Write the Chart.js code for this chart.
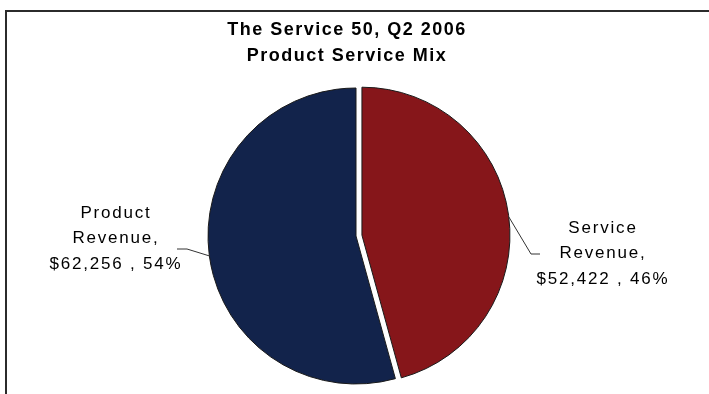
<!DOCTYPE html>
<html>
<head>
<meta charset="utf-8">
<script src="https://cdn.jsdelivr.net/npm/chart.js@4.4.1/dist/chart.umd.min.js"></script>
<style>
  html, body { margin: 0; padding: 0; background: #ffffff; }
  canvas { display: block; }
</style>
</head>
<body>
<canvas id="mixChart" width="709" height="394"></canvas>
<script>
// chart data
const titleLines = ['The Service 50, Q2 2006', 'Product Service Mix'];
const categories = ['Service Revenue', 'Product Revenue'];
const revenue = [52422, 62256];
const percentLabels = ['46%', '54%'];
const sliceColors = ['#86161A', '#12234B'];
const slicePull = [6, 0]; // service slice is pulled out a little

const FONT = '"Liberation Sans", Arial, sans-serif';

// frame lines round the chart (top and left only, like the cropped original) + title
const framePlugin = {
    id: 'frame',
    beforeDraw(chart) {
        const ctx = chart.ctx;
        ctx.save();
        ctx.fillStyle = '#2b2b2b';
        ctx.fillRect(5, 10, chart.width - 5, 2); // top edge
        ctx.fillRect(5, 10, 2, chart.height - 10); // left edge

        ctx.letterSpacing = '1.5px';
        ctx.font = 'bold 18px ' + FONT;
        ctx.fillStyle = '#000000';
        ctx.textAlign = 'center';
        ctx.textBaseline = 'middle';
        titleLines.forEach((line, i) => ctx.fillText(line, 347, 30 + i * 26));
        ctx.restore();
    }
};

// move exploded slices out along their middle angle
const pullPlugin = {
    id: 'pull',
    afterDatasetsUpdate(chart) {
        chart.getDatasetMeta(0).data.forEach((arc, i) => {
            const mid = (arc.startAngle + arc.endAngle) / 2;
            arc.x += Math.cos(mid) * slicePull[i];
            arc.y += Math.sin(mid) * slicePull[i];
        });
    }
};

// labels with leader lines, Excel style
const sliceLabelPlugin = {
    id: 'sliceLabels',
    afterDatasetsDraw(chart) {
        const ctx = chart.ctx;
        const area = chart.chartArea;
        const cx0 = (area.left + area.right) / 2;
        const cy0 = (area.top + area.bottom) / 2;
        const arcs = chart.getDatasetMeta(0).data;
        const fmt = v => '$' + v.toLocaleString('en-US');

        // where each leader line leaves the slice, and where its text sits (relative to the pie centre)
        const layout = [
            { edge: -0.124, bend: [175, 18], end: [184, 18], text: [246, -8] },
            { edge: Math.PI - 0.135, bend: [-169, 13], end: [-179, 13], text: [-241, -23] }
        ];

        ctx.save();
        ctx.letterSpacing = '1.8px';
        ctx.font = '17px ' + FONT;
        ctx.fillStyle = '#000000';
        ctx.textAlign = 'center';
        ctx.textBaseline = 'middle';
        arcs.forEach((arc, i) => {
            const p = layout[i];
            const r = arc.outerRadius;

            ctx.strokeStyle = '#333333';
            ctx.lineWidth = 1;
            ctx.beginPath();
            ctx.moveTo(arc.x + Math.cos(p.edge) * r, arc.y + Math.sin(p.edge) * r);
            ctx.lineTo(cx0 + p.bend[0], cy0 + p.bend[1]);
            ctx.lineTo(cx0 + p.end[0], cy0 + p.end[1]);
            ctx.stroke();

            const words = categories[i].split(' ');
            const lines = [words[0], words[1] + ',', fmt(revenue[i]) + ' , ' + percentLabels[i]];
            lines.forEach((line, k) => {
                ctx.fillText(line, cx0 + p.text[0] + 1, cy0 + p.text[1] + k * 25.5);
            });
        });
        ctx.restore();
    }
};

const ctx = document.getElementById('mixChart').getContext('2d');
new Chart(ctx, {
    type: 'pie',
    data: {
        labels: categories,
        datasets: [{
            data: revenue,
            backgroundColor: sliceColors,
            borderColor: '#1a1a1a',
            borderWidth: 1
        }]
    },
    options: {
        responsive: false,
        animation: false,
        radius: 148,
        layout: {
            padding: { top: 80, bottom: 2, left: 3, right: 0 }
        },
        plugins: {
            legend: { display: false },
            tooltip: { enabled: false },
            title: { display: false }
        }
    },
    plugins: [framePlugin, pullPlugin, sliceLabelPlugin]
});
</script>
</body>
</html>
